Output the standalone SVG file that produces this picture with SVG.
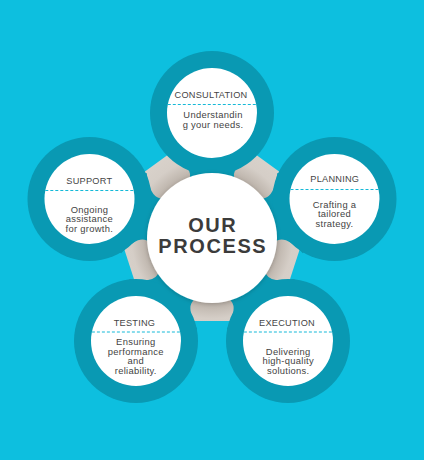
<svg xmlns="http://www.w3.org/2000/svg" width="424" height="460" viewBox="0 0 424 460">
  <defs>
    <radialGradient id="beige" gradientUnits="userSpaceOnUse" cx="212" cy="238" r="112">
      <stop offset="0.57" stop-color="#b9b0a7"/>
      <stop offset="0.72" stop-color="#d5cec7"/>
      <stop offset="1" stop-color="#dcd6cf"/>
    </radialGradient>
    <filter id="shadow" x="-20%" y="-20%" width="140%" height="140%">
      <feDropShadow dx="0" dy="1" stdDeviation="2" flood-color="#000" flood-opacity="0.2"/>
    </filter>
    <path id="neck" d="M40,-24 L62,-22 Q72,-21 82,-42 L110,-30 L110,30 L82,42 Q72,21 62,22 L40,24 Z"/>
  </defs>
  <style>
    .teal { fill: #0999b3; }
    .inner { fill: #ffffff; }
    .label { font-family: "Liberation Sans", Arial, sans-serif; font-size: 9.2px; fill: #454545; text-anchor: middle; letter-spacing: 0.25px; }
    .body { font-family: "Liberation Sans", Arial, sans-serif; font-size: 9.4px; fill: #434343; text-anchor: middle; letter-spacing: 0.3px; }
    .dash { stroke: #14b9d8; stroke-width: 1; stroke-dasharray: 3 2; fill: none; }
    .title { font-family: "Liberation Sans", Arial, sans-serif; font-weight: bold; font-size: 20px; fill: #3b3b3b; text-anchor: middle; letter-spacing: 1.6px; }
  </style>
  <rect width="424" height="460" fill="#0dbfdf"/>

  <polygon id="pentagon" points="212,122.7 316.2,198.4 276.4,321 147.6,321 107.8,198.4" fill="url(#beige)"/>

  <g id="connectors">
    <use href="#neck" class="teal" transform="translate(212,238) rotate(-90)"/>
    <use href="#neck" class="teal" transform="translate(212,238) rotate(-17.66)"/>
    <use href="#neck" class="teal" transform="translate(212,238) rotate(53.6)"/>
    <use href="#neck" class="teal" transform="translate(212,238) rotate(126.4)"/>
    <use href="#neck" class="teal" transform="translate(212,238) rotate(197.66)"/>
  </g>

  <g id="consultation">
    <circle class="teal" cx="212" cy="113" r="62"/>
    <circle class="inner" cx="212" cy="113" r="45"/>
    <text class="label" x="211" y="97.5">CONSULTATION</text>
    <line class="dash" x1="167.8" y1="104.5" x2="256.2" y2="104.5"/>
    <text class="body" x="213" y="118.3">Understandin</text>
    <text class="body" x="213" y="128">g your needs.</text>
  </g>

  <g id="planning">
    <circle class="teal" cx="334.5" cy="199" r="62"/>
    <circle class="inner" cx="334.5" cy="199" r="45"/>
    <text class="label" x="334.8" y="181.5">PLANNING</text>
    <line class="dash" x1="290.5" y1="189.5" x2="378.5" y2="189.5"/>
    <text class="body" x="334.5" y="207.6">Crafting a</text>
    <text class="body" x="334.5" y="217.2">tailored</text>
    <text class="body" x="334.5" y="226.8">strategy.</text>
  </g>

  <g id="support">
    <circle class="teal" cx="89.5" cy="199" r="62"/>
    <circle class="inner" cx="89.5" cy="199" r="45"/>
    <text class="label" x="89.3" y="184.2">SUPPORT</text>
    <line class="dash" x1="45.3" y1="190.5" x2="133.7" y2="190.5"/>
    <text class="body" x="89.4" y="212.6">Ongoing</text>
    <text class="body" x="89.4" y="222.2">assistance</text>
    <text class="body" x="89.4" y="231.8">for growth.</text>
  </g>

  <g id="testing">
    <circle class="teal" cx="136" cy="341" r="62"/>
    <circle class="inner" cx="136" cy="341" r="45"/>
    <text class="label" x="134.5" y="325.9">TESTING</text>
    <line class="dash" x1="91.9" y1="332" x2="180.1" y2="332"/>
    <text class="body" x="135.8" y="345">Ensuring</text>
    <text class="body" x="135.8" y="354.6">performance</text>
    <text class="body" x="135.8" y="364.2">and</text>
    <text class="body" x="135.8" y="373.8">reliability.</text>
  </g>

  <g id="execution">
    <circle class="teal" cx="288" cy="341" r="62"/>
    <circle class="inner" cx="288" cy="341" r="45"/>
    <text class="label" x="287" y="325.9">EXECUTION</text>
    <line class="dash" x1="243.9" y1="332" x2="332.1" y2="332"/>
    <text class="body" x="288.2" y="354.6">Delivering</text>
    <text class="body" x="288.2" y="364.2">high-quality</text>
    <text class="body" x="288.2" y="373.8">solutions.</text>
  </g>

  <g id="hub">
    <circle cx="212" cy="238" r="65" fill="#ffffff" filter="url(#shadow)"/>
    <text class="title" x="212.8" y="231.5">OUR</text>
    <text class="title" x="212.8" y="253">PROCESS</text>
  </g>
</svg>
